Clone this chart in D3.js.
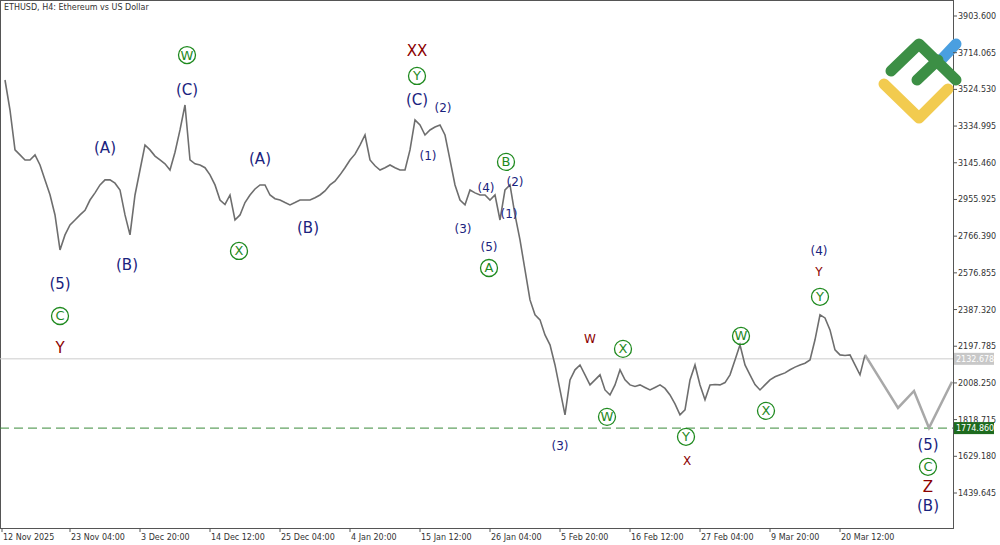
<!DOCTYPE html>
<html><head><meta charset="utf-8">
<script src="https://cdn.jsdelivr.net/npm/d3@7"></script>
<style>body{margin:0;background:#fff}text{font-family:"DejaVu Sans",sans-serif}</style>
</head><body>
<script>
// close prices, one sample every ~18h (H4 chart thinned)
var closes = [3573,3418,3212,3186,3160,3160,3186,3134,3057,2980,2876,2695,2773,2824,2850,2876,2900,2953,2990,3031,
  3057,3057,3040,3005,2876,2773,2979,3108,3237,3212,3180,3160,3140,3108,3200,3315,3444,3160,3140,3134,
  3120,3083,3031,2953,2930,2979,2850,2876,2940,2979,3010,3031,3031,2979,2960,2953,2940,2928,2940,2953,
  2953,2953,2965,2979,3000,3031,3050,3083,3120,3160,3190,3237,3289,3160,3130,3108,3120,3134,3120,3108,
  3108,3212,3367,3341,3289,3315,3330,3341,3289,3160,3031,2953,2928,3005,2990,2979,2979,2953,2979,2850,
  3005,3031,2876,2747,2592,2437,2360,2334,2256,2205,2101,1972,1843,2024,2076,2101,2050,1998,2024,2050,
  1972,1946,1998,2076,2024,1998,1990,1998,1985,1972,1985,1998,1980,1946,1900,1843,1869,2024,2101,1998,
  1921,1998,2000,1998,2010,2050,2127,2205,2101,2050,2000,1972,1998,2024,2040,2050,2060,2076,2090,2101,
  2110,2127,2231,2360,2344,2282,2179,2153,2150,2153,2101,2050,2153];
var projIdx = [172,178.6,181.8,184.8,189.4];
var projVal = [2153,1879,1967,1776,2014];
var yTicks = [3903.600,3714.065,3524.530,3334.995,3145.460,2955.925,2766.390,2576.855,2387.320,2197.785,2008.250,1818.715,1629.180,1439.645];
var xLabels = ["12 Nov 2025","23 Nov 04:00","3 Dec 20:00","14 Dec 12:00","25 Dec 04:00","4 Jan 20:00","15 Jan 12:00",
  "26 Jan 04:00","5 Feb 20:00","16 Feb 12:00","27 Feb 04:00","9 Mar 20:00","20 Mar 12:00"];
var xLabelIdx = [-0.6,13,27,41,55,69,83,97,111,125,139,153,167];
var lastPrice = 2132.678, supportPrice = 1774.860;
// wave labels: [index, price, text, kind]  kind: n=navy, r=darkred, c=green circled, s=small
var waves = [[36.4,3702,"W","c"],[36.4,3521,"(C)","n"],[20,3222,"(A)","n"],[11,2520,"(5)","n"],[11,2354,"C","c"],[11,2189,"Y","r"],
  [24.4,2618,"(B)","n"],[51,3165,"(A)","n"],[46.8,2690,"X","c"],[60.6,2809,"(B)","n"],[82.4,3723,"XX","r"],[82.4,3594,"Y","c"],
  [82.4,3470,"(C)","n"],[87.6,3428,"(2)","s"],[84.6,3181,"(1)","s"],[96.2,3015,"(4)","s"],[102,3046,"(2)","s"],[100.2,3150,"B","c"],
  [100.8,2881,"(1)","s"],[91.6,2804,"(3)","s"],[96.8,2711,"(5)","s"],[96.8,2602,"A","c"],[117,2236,"W","rs"],[123.6,2184,"X","c"],
  [120.4,1833,"W","c"],[111,1683,"(3)","s"],[136.2,1730,"Y","c"],[136.4,1606,"X","rs"],[147.2,2251,"W","c"],[152.2,1864,"X","c"],
  [162.8,2690,"(4)","s"],[162.8,2582,"Y","rs"],[163,2453,"Y","c"],[184.6,1688,"(5)","n"],[184.6,1575,"C","c"],[184.6,1471,"Z","r"],[184.6,1373,"(B)","n"]];

var W = 1000, H = 545, right = 953, bottom = 528;
var svg = d3.select("body").append("svg").attr("width", W).attr("height", H);
var x = d3.scaleLinear().domain([0, 189.4]).range([5, 952]);
var y = d3.scaleLinear().domain([1439.645, 3903.6]).range([493, 16]);

svg.append("rect").attr("x",0.5).attr("y",0.5).attr("width",right).attr("height",bottom)
  .attr("fill","none").attr("stroke","#555");

// logo
var lg = svg.append("g").attr("fill","none").attr("stroke-linecap","round").attr("stroke-linejoin","round").attr("stroke-width",11);
lg.append("path").attr("d","M956,44L941,60").attr("stroke","#4a9fe0");
lg.append("path").attr("d","M884,84L919,118L948,89").attr("stroke","#f2cb4f");
lg.append("path").attr("d","M891,71L919,44L956,80M917,80L938,60").attr("stroke","#3c8f45");

// y axis
var ya = svg.append("g").attr("transform","translate("+right+",0)");
yTicks.forEach(function(t){
  ya.append("line").attr("x1",0).attr("x2",4).attr("y1",y(t)).attr("y2",y(t)).attr("stroke","#555");
  ya.append("text").attr("x",5).attr("y",y(t)+3).attr("font-size",8).attr("fill","#333").text(t.toFixed(3));
});
// x axis
xLabels.forEach(function(l,i){
  var px = x(xLabelIdx[i]);
  svg.append("line").attr("x1",px).attr("x2",px).attr("y1",bottom).attr("y2",bottom+4).attr("stroke","#555");
  svg.append("text").attr("x",px+1).attr("y",540).attr("font-size",8).attr("fill","#333").text(l);
});

// levels
svg.append("line").attr("x1",0).attr("x2",right).attr("y1",y(lastPrice)).attr("y2",y(lastPrice)).attr("stroke","#ccc");
svg.append("rect").attr("x",right+1).attr("y",y(lastPrice)-6).attr("width",40).attr("height",12).attr("fill","#c8c8c8");
svg.append("text").attr("x",right+3).attr("y",y(lastPrice)+3).attr("font-size",8).attr("fill","#fff").text(lastPrice.toFixed(3));
svg.append("line").attr("x1",0).attr("x2",right).attr("y1",y(supportPrice)).attr("y2",y(supportPrice))
  .attr("stroke","#3a8a3a").attr("stroke-dasharray","9,5");
svg.append("rect").attr("x",right+1).attr("y",y(supportPrice)-6).attr("width",40).attr("height",12).attr("fill","#1e6b1e");
svg.append("text").attr("x",right+3).attr("y",y(supportPrice)+3).attr("font-size",8).attr("fill","#fff").text(supportPrice.toFixed(3));

// price
var line = d3.line().x(function(d){return x(d[0]);}).y(function(d){return y(d[1]);});
svg.append("path").datum(closes.map(function(v,i){return [i,v];})).attr("d",line)
  .attr("fill","none").attr("stroke","#6e6e6e").attr("stroke-width",1.6);
svg.append("path").datum(projIdx.map(function(v,i){return [v,projVal[i]];})).attr("d",line)
  .attr("fill","none").attr("stroke","#a8a8a8").attr("stroke-width",2.5);

// title
svg.append("text").attr("x",4).attr("y",10).attr("font-size",8).attr("fill","#333").text("ETHUSD, H4:  Ethereum vs US Dollar");

// wave labels
waves.forEach(function(w){
  var px = x(w[0]), py = y(w[1]), k = w[3];
  var small = k.indexOf("s") >= 0;
  var col = k[0]=="r" ? "#8b0000" : k=="c" ? "#1f8a1f" : "#1a237e";
  if (k=="c") svg.append("circle").attr("cx",px).attr("cy",py).attr("r",8.5).attr("fill","none").attr("stroke",col).attr("stroke-width",1.3);
  svg.append("text").attr("x",px).attr("y",py).attr("text-anchor","middle").attr("dominant-baseline","central")
    .attr("font-size", k=="c" ? 13 : small ? 12 : 15).attr("fill",col).text(w[2]);
});
</script>
</body></html>
